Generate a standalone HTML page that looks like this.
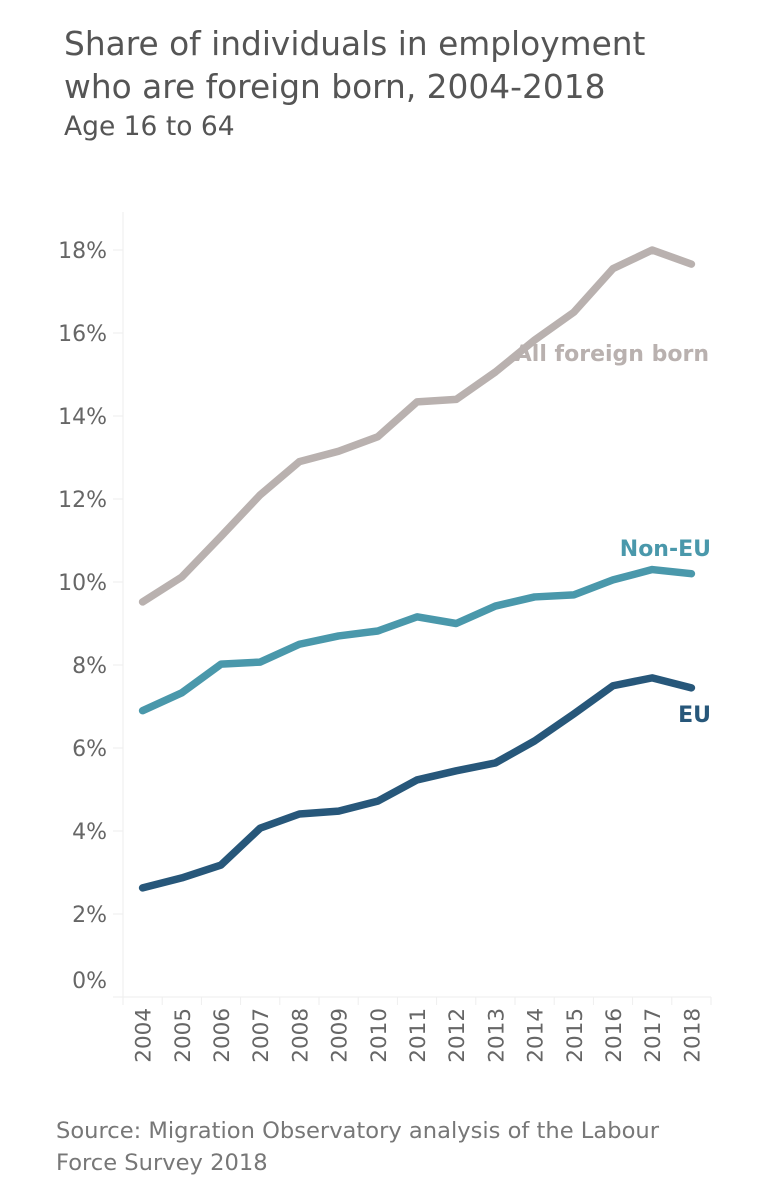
<!DOCTYPE html>
<html><head><meta charset="utf-8"><style>
body{margin:0;background:#fff;font-family:"DejaVu Sans","Liberation Sans",sans-serif;color:#555}
#wrap{position:relative;width:768px;height:1200px;overflow:hidden}
.t{position:absolute;left:64px;white-space:nowrap}
</style></head><body>
<div id="wrap">
<div class="t" style="top:23px;font-size:32.8px;line-height:43px;color:#555">Share of individuals in employment<br>who are foreign born, 2004-2018</div>
<div class="t" style="top:111px;font-size:26.5px;color:#555">Age 16 to 64</div>
<svg id="chart" width="768" height="1100" style="position:absolute;left:0;top:0"></svg>
<div class="t" style="left:56px;top:1115px;font-size:22.6px;line-height:32px;color:#777">Source: Migration Observatory analysis of the Labour<br>Force Survey 2018</div>
</div>
<script>
const years=[2004,2005,2006,2007,2008,2009,2010,2011,2012,2013,2014,2015,2016,2017,2018];
const allForeign=[9.52,10.12,11.1,12.1,12.9,13.15,13.5,14.34,14.4,15.06,15.83,16.5,17.55,18.0,17.66];
const nonEU=[6.9,7.33,8.02,8.07,8.5,8.7,8.82,9.16,9.0,9.42,9.64,9.69,10.05,10.3,10.2];
const eu=[2.63,2.87,3.18,4.07,4.41,4.48,4.72,5.23,5.45,5.64,6.17,6.82,7.5,7.69,7.45];
const yTicks=[0,2,4,6,8,10,12,14,16,18];
const NS="http://www.w3.org/2000/svg";
const svg=document.getElementById('chart');
const x0=123,bw=39.2,y0=997,py=41.5;
const X=i=>x0+bw*(i+0.5);
const Y=v=>y0-v*py;
function mk(t,a){const e=document.createElementNS(NS,t);for(const k in a)e.setAttribute(k,a[k]);svg.appendChild(e);return e;}
let ax=mk('line',{x1:x0,y1:212,x2:x0,y2:y0+8,stroke:'#eee','stroke-width':1});


let bx=mk('line',{x1:113,y1:y0,x2:x0+bw*15,y2:y0,stroke:'#eee','stroke-width':1});


yTicks.forEach(v=>{
 mk('line',{x1:113,y1:Y(v),x2:x0,y2:Y(v),stroke:'#eee'});
 const t=mk('text',{x:107,y:(v===0?Y(v)-9:Y(v)+8),'text-anchor':'end','font-size':22,fill:'#666'});
 t.textContent=v+'%';
 
 
});
years.forEach((yr,i)=>{
 mk('line',{x1:x0+bw*(i+1),y1:y0,x2:x0+bw*(i+1),y2:y0+8,stroke:'#eee'});
 const t=mk('text',{x:0,y:0,'text-anchor':'end','font-size':21.5,fill:'#666',transform:`translate(${X(i)+8},1008) rotate(-90)`});
 t.textContent=yr;
 
 
});
function series(d,c,name){
 const p=mk('polyline',{points:d.map((v,i)=>X(i)+','+Y(v)).join(' '),fill:'none',stroke:c,'stroke-width':7.5,'stroke-linejoin':'round','stroke-linecap':'round'});
 
 
}
series(allForeign,'#b9b1af','line-all-foreign-born');
series(nonEU,'#4a98ab','line-non-eu');
series(eu,'#27577a','line-eu');
function lab(txt,x,y,c,name){const t=mk('text',{x:x,y:y,'text-anchor':'end','font-size':22,'font-weight':'bold',fill:c});t.textContent=txt;
 
 }
lab('All foreign born',709,361,'#b9b1af','label-all-foreign-born');
lab('Non-EU',711,556,'#4a98ab','label-non-eu');
lab('EU',711,722,'#27577a','label-eu');
</script>
</body></html>
